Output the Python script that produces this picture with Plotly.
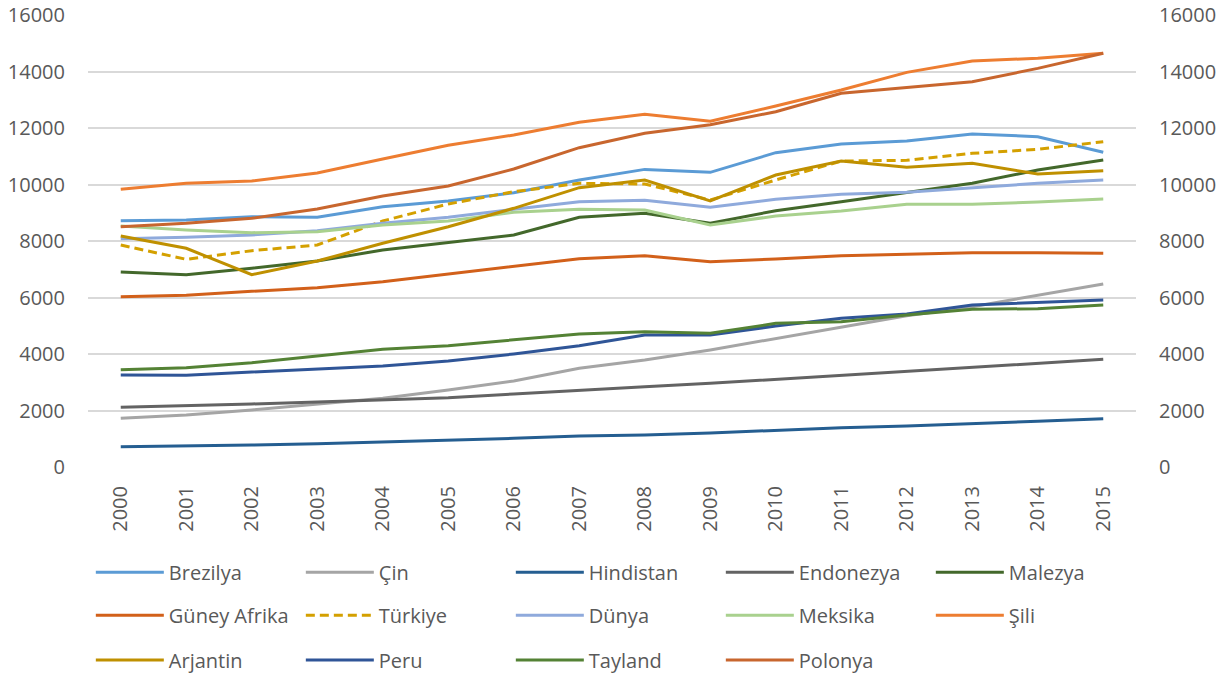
import plotly.graph_objects as go

years = [str(y) for y in range(2000, 2016)]

brezilya = [8719, 8743, 8860, 8838, 9214, 9416, 9710, 10159, 10535, 10430, 11127, 11434, 11540, 11788, 11693, 11140]
cin = [1723, 1841, 2018, 2218, 2430, 2726, 3044, 3493, 3788, 4142, 4555, 4944, 5357, 5676, 6089, 6478]
hindistan = [720, 743, 779, 826, 885, 956, 1015, 1097, 1133, 1204, 1310, 1392, 1451, 1522, 1617, 1710]
endonezya = [2113, 2159, 2230, 2301, 2372, 2454, 2584, 2726, 2844, 2962, 3104, 3245, 3398, 3528, 3670, 3811]
malezya = [6903, 6808, 7033, 7292, 7681, 7940, 8212, 8838, 8979, 8625, 9074, 9392, 9723, 10041, 10513, 10867]
guney_afrika = [6028, 6076, 6218, 6347, 6559, 6832, 7091, 7374, 7480, 7268, 7363, 7480, 7528, 7587, 7587, 7563]
turkiye = [7858, 7351, 7657, 7858, 8708, 9310, 9746, 10041, 10018, 9451, 10159, 10832, 10855, 11103, 11245, 11516]
dunya = [8082, 8130, 8212, 8365, 8625, 8838, 9121, 9392, 9440, 9192, 9475, 9652, 9723, 9887, 10041, 10159]
meksika = [8531, 8389, 8295, 8330, 8566, 8708, 9015, 9121, 9097, 8566, 8885, 9062, 9298, 9298, 9381, 9487]
sili = [9829, 10041, 10124, 10407, 10903, 11386, 11752, 12200, 12484, 12236, 12779, 13345, 13970, 14372, 14467, 14644]
arjantin = [8177, 7741, 6808, 7292, 7918, 8506, 9157, 9887, 10159, 9416, 10336, 10832, 10608, 10749, 10372, 10489]
peru = [3257, 3245, 3363, 3469, 3575, 3752, 4000, 4295, 4673, 4673, 4991, 5262, 5416, 5735, 5817, 5912]
tayland = [3444, 3515, 3692, 3929, 4165, 4295, 4496, 4708, 4790, 4731, 5085, 5144, 5380, 5581, 5605, 5735]
polonya = [8506, 8625, 8802, 9132, 9593, 9947, 10548, 11303, 11811, 12117, 12577, 13228, 13437, 13638, 14110, 14644]

y_ticks = [0, 2000, 4000, 6000, 8000, 10000, 12000, 14000, 16000]

series = [
    ("Brezilya", brezilya, "#5B9BD5", "solid", "legend"),
    ("Çin", cin, "#A5A5A5", "solid", "legend"),
    ("Hindistan", hindistan, "#255E91", "solid", "legend"),
    ("Endonezya", endonezya, "#636363", "solid", "legend"),
    ("Malezya", malezya, "#43682B", "solid", "legend"),
    ("Güney Afrika", guney_afrika, "#D2601A", "solid", "legend2"),
    ("Türkiye", turkiye, "#D4A000", "9px,5px", "legend2"),
    ("Dünya", dunya, "#8FAADC", "solid", "legend2"),
    ("Meksika", meksika, "#A9D18E", "solid", "legend2"),
    ("Şili", sili, "#ED7D31", "solid", "legend2"),
    ("Arjantin", arjantin, "#BF9000", "solid", "legend3"),
    ("Peru", peru, "#2F5597", "solid", "legend3"),
    ("Tayland", tayland, "#548235", "solid", "legend3"),
    ("Polonya", polonya, "#C8662E", "solid", "legend3"),
]

fig = go.Figure()
for name, vals, color, dash, leg in series:
    fig.add_trace(go.Scatter(
        x=years, y=vals, name=name, mode="lines",
        line=dict(color=color, width=3, dash=dash),
        legend=leg,
    ))

# invisible trace to carry the right-hand axis
fig.add_trace(go.Scatter(x=years, y=brezilya, yaxis="y2", mode="lines",
                         line=dict(width=0), opacity=0, showlegend=False,
                         hoverinfo="skip"))

font = dict(family="Open Sans", size=20, color="#595959")
leg_common = dict(orientation="h", entrywidth=127, entrywidthmode="pixels",
                  itemwidth=68, font=font, xanchor="left", yanchor="middle",
                  bgcolor="rgba(0,0,0,0)", itemclick=False)

fig.update_layout(
    width=1231, height=679,
    margin=dict(l=88, r=95, t=15, b=212, autoexpand=False),
    paper_bgcolor="white", plot_bgcolor="white",
    font=font,
    xaxis=dict(type="category", tickangle=-90, showgrid=False, showline=False,
               ticks="", ticklabelstandoff=14, range=[-0.5, 15.5],
               tickfont=font, automargin=False),
    yaxis=dict(range=[0, 16000], tickvals=y_ticks, tickformat="d", showgrid=True,
               gridcolor="#D9D9D9", gridwidth=1.5, zeroline=False,
               showline=False, ticks="", ticklabelstandoff=22, tickfont=font,
               automargin=False, ticklabeloverflow="allow"),
    yaxis2=dict(range=[0, 16000], tickvals=y_ticks, tickformat="d", overlaying="y",
                side="right", showgrid=False, zeroline=False, showline=False,
                ticks="", ticklabelstandoff=22, tickfont=font, automargin=False,
                ticklabeloverflow="allow"),
    legend=dict(x=0.0027, y=-0.233, **leg_common),
    legend2=dict(x=0.0027, y=-0.328, **leg_common),
    legend3=dict(x=0.0027, y=-0.427, **leg_common),
)

# remove the default 8px page margin so the figure fills the window exactly
fig.write_html("out.html", config={"displayModeBar": False},
               post_script="document.body.style.margin='0';")
